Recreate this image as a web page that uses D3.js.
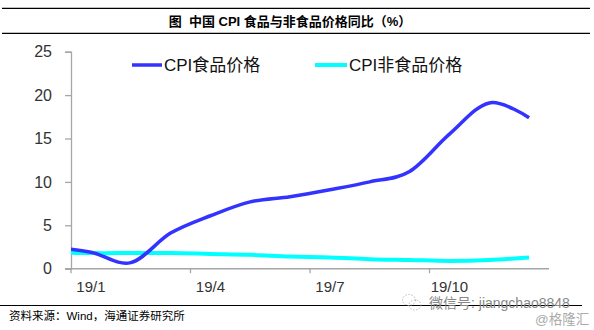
<!DOCTYPE html>
<html><head><meta charset="utf-8">
<script src="https://cdn.jsdelivr.net/npm/d3@7"></script>
<style>
html,body{margin:0;padding:0;background:#fff;}
svg{display:block;font-family:"Liberation Sans","Noto Sans CJK SC",sans-serif;}
</style></head>
<body>
<script>
// ---- data ----
const months = ["18/12","19/1","19/2","19/3","19/4","19/5","19/6","19/7","19/8","19/9","19/10","19/11","19/12"];
const foodCPI = [2.5,1.9,0.7,4.1,6.1,7.7,8.3,9.1,10.0,11.2,15.5,19.1,17.4];
const nonFoodCPI = [1.9,1.8,1.8,1.8,1.7,1.6,1.4,1.3,1.1,1.0,0.9,1.0,1.3];
const xTickLabels = ["19/1","19/4","19/7","19/10"];
const yTicks = [0,5,10,15,20,25];
const seriesNames = ["CPI食品价格","CPI非食品价格"];
const title = "图  中国 CPI 食品与非食品价格同比（%）";
const source = "资料来源：Wind，海通证券研究所";

const W = 594, H = 330;
const plotL = 71, plotR = 549, plotT = 51.7, plotB = 268.7;
const band = (plotR - plotL) / 12;

const svg = d3.select("body").append("svg").attr("width", W).attr("height", H);

// header lines & title
svg.append("line").attr("x1",2).attr("x2",590).attr("y1",8.3).attr("y2",8.3).attr("stroke","#000").attr("stroke-width",1.3);
svg.append("line").attr("x1",2).attr("x2",590).attr("y1",33.3).attr("y2",33.3).attr("stroke","#000").attr("stroke-width",1.3);
svg.append("text").attr("x",290).attr("y",26).attr("text-anchor","middle")
  .attr("font-size",13).attr("font-weight","bold").attr("fill","#000").attr("xml:space","preserve").text(title);

// scales
const x = d3.scaleBand().domain(months).range([plotL - band, plotR]).paddingInner(0).paddingOuter(0);
const cx = m => x(m) + x.bandwidth()/2;
const y = d3.scaleLinear().domain([0,25]).range([plotB, plotT]);

// clip
svg.append("clipPath").attr("id","clip").append("rect")
  .attr("x",plotL).attr("y",0).attr("width",plotR-plotL).attr("height",H);

// y axis
const yAxis = svg.append("g").attr("transform",`translate(${plotL},0)`)
  .call(d3.axisLeft(y).tickValues(yTicks).tickSize(6).tickPadding(13).tickFormat(d3.format("d")));
yAxis.select(".domain").attr("stroke","#a6a6a6").attr("stroke-width",1.3);
yAxis.selectAll(".tick line").attr("stroke","#a6a6a6").attr("stroke-width",1.3);
yAxis.selectAll(".tick text").attr("font-size",16).attr("fill","#333").attr("font-family","Liberation Sans");

// x axis
const xAxisG = svg.append("g");
xAxisG.append("line").attr("x1",plotL-6).attr("x2",plotR).attr("y1",plotB).attr("y2",plotB)
  .attr("stroke","#a6a6a6").attr("stroke-width",1.5);
xAxisG.selectAll("line.t").data(xTickLabels).enter().append("line")
  .attr("x1",d=>x(d)).attr("x2",d=>x(d)).attr("y1",plotB).attr("y2",plotB+4.5)
  .attr("stroke","#a6a6a6").attr("stroke-width",1.3);
xAxisG.selectAll("text").data(xTickLabels).enter().append("text")
  .attr("x",d=>cx(d)).attr("y",291.5).attr("text-anchor","middle")
  .attr("font-size",15).attr("fill","#333").attr("font-family","Liberation Sans").text(d=>d);

// lines
const line = d3.line().x((d,i)=>cx(months[i])).y(d=>y(d)).curve(d3.curveCardinal.tension(0));
const g = svg.append("g").attr("clip-path","url(#clip)");
g.append("path").datum(nonFoodCPI).attr("d",line).attr("fill","none").attr("stroke","#00ffff").attr("stroke-width",4);
g.append("path").datum(foodCPI).attr("d",line).attr("fill","none").attr("stroke","#3333ff").attr("stroke-width",3.5);

// legend
const legend = [
  {name:seriesNames[0], color:"#3333ff", x1:132, x2:162, tx:164, w:3.5},
  {name:seriesNames[1], color:"#00ffff", x1:315, x2:347, tx:349, w:4}
];
legend.forEach(l=>{
  svg.append("line").attr("x1",l.x1).attr("x2",l.x2).attr("y1",65).attr("y2",65).attr("stroke",l.color).attr("stroke-width",l.w);
  svg.append("text").attr("x",l.tx).attr("y",71).attr("font-size",17).attr("fill","#111").text(l.name);
});

// footer
svg.append("line").attr("x1",0).attr("x2",582).attr("y1",305.5).attr("y2",305.5).attr("stroke","#000").attr("stroke-width",1.2);
svg.append("text").attr("x",9).attr("y",320).attr("font-size",11.5).attr("fill","#000").text(source);

// watermark
const wm = svg.append("g").attr("fill","none").attr("stroke","#aaa").attr("stroke-width",0.8).attr("stroke-dasharray","1.5,1.5");
wm.append("ellipse").attr("cx",409).attr("cy",300).attr("rx",6.5).attr("ry",5.5);
wm.append("ellipse").attr("cx",415).attr("cy",305).attr("rx",6).attr("ry",5);
svg.append("text").attr("x",429).attr("y",308).attr("font-size",14).attr("fill","#888").text("微信号: jiangchao8848");
svg.append("text").attr("x",535).attr("y",324).attr("font-size",13.5).attr("fill","#aaa").text("@格隆汇");
</script>
</body></html>
